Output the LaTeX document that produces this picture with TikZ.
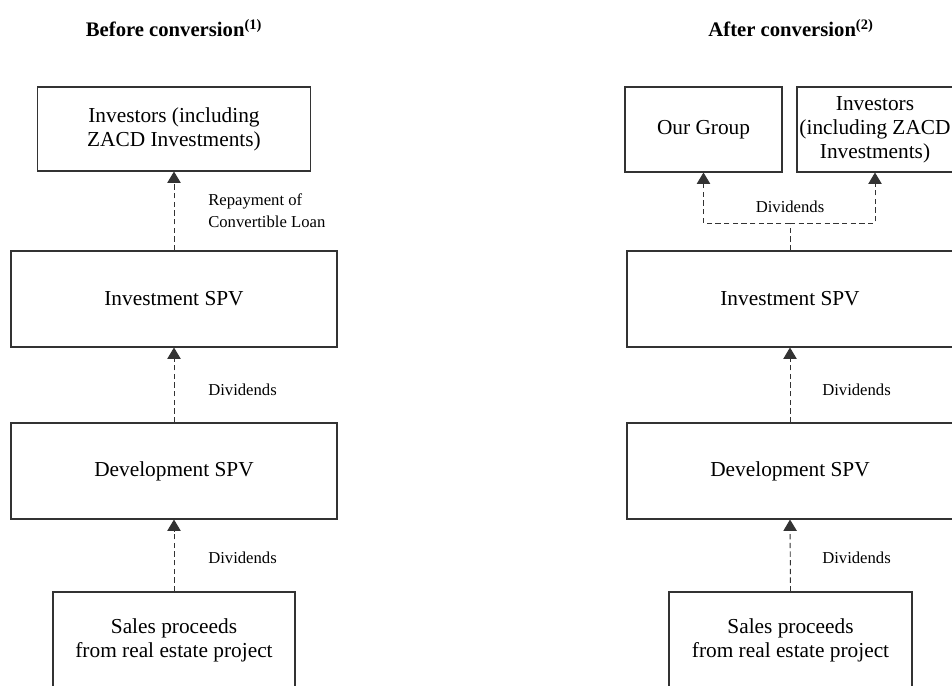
\documentclass[tikz,border=0pt]{standalone}
\usepackage{fontspec}
\setmainfont{Liberation Serif}
\usetikzlibrary{arrows.meta}
\begin{document}
\begin{tikzpicture}[x=0.75pt,y=0.75pt,
  box/.style={draw=black!80,line width=0.8pt,align=center,font=\fontsize{16}{18}\selectfont},
  flow/.style={draw=black!80,line width=0.7pt,dash pattern=on 4pt off 2.5pt},
  tip/.style={-{Triangle[length=8.5pt,width=10pt]}},
  lbl/.style={font=\fontsize{12.5}{16.5}\selectfont,align=left},
  ttl/.style={font=\fontsize{15.5}{18}\selectfont\bfseries}]
\tikzstyle{every node}+=[inner sep=0pt]
\clip (0,0) rectangle (952,-685);
\draw (174,-28) node [ttl] (before) {Before conversion\textsuperscript{(1)}};
\draw (791,-28) node [ttl] (after) {After conversion\textsuperscript{(2)}};
\draw (174,-129) node [box,minimum width=204.75pt,minimum height=63pt] (inv) {Investors (including\\ZACD Investments)};
\draw (174,-299) node [box,minimum width=244.5pt,minimum height=72pt] (spv) {Investment SPV};
\draw (174,-471) node [box,minimum width=244.5pt,minimum height=72pt] (dev) {Development SPV};
\draw (174,-640) node [box,minimum width=181.5pt,minimum height=72pt] (sales) {Sales proceeds\\from real estate project};
\draw [flow,tip] (spv.north) -- (inv.south);
\draw [flow,tip] (dev.north) -- (spv.south);
\draw [flow,tip] (sales.north) -- (dev.south);
\draw (208,-211) node [lbl,anchor=west] {Repayment of\\Convertible Loan};
\draw (208,-390) node [lbl,anchor=west] {Dividends};
\draw (208,-558) node [lbl,anchor=west] {Dividends};
\draw (703.5,-129.5) node [box,minimum width=117.75pt,minimum height=63.75pt] (grp) {Our Group};
\draw (875,-129.5) node [box,minimum width=117pt,minimum height=63.75pt] (ext) {Investors\\(including ZACD\\Investments)};
\draw (790,-299) node [box,minimum width=244.5pt,minimum height=72pt] (spv2) {Investment SPV};
\draw (790,-471) node [box,minimum width=244.5pt,minimum height=72pt] (dev2) {Development SPV};
\draw (790.5,-640) node [box,minimum width=182.25pt,minimum height=72pt] (sales2) {Sales proceeds\\from real estate project};
\coordinate (split) at (790,-223);
\draw [flow] (spv2.north) -- (split);
\draw [flow,tip] (split) -| (grp.south);
\draw [flow,tip] (split) -| (ext.south);
\draw [flow,tip] (dev2.north) -- (spv2.south);
\draw [flow,tip] (sales2.north) -- (dev2.south);
\draw (790,-207) node [lbl] {Dividends};
\draw (822,-390) node [lbl,anchor=west] {Dividends};
\draw (822,-558) node [lbl,anchor=west] {Dividends};
\end{tikzpicture}
\end{document}
